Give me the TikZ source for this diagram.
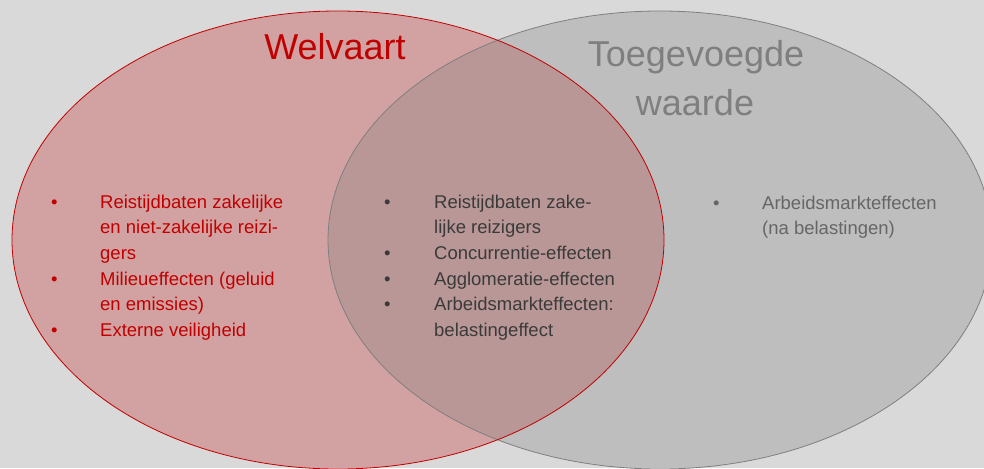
\documentclass[tikz,border=0pt]{standalone}
\usepackage{fontspec}
\setmainfont{Liberation Sans}
\usepackage{array}
\definecolor{bg}{HTML}{D9D9D9}
\definecolor{wred}{HTML}{C00000}
\definecolor{wgray}{HTML}{7F7F7F}
\definecolor{midtext}{HTML}{3A3A3A}
\definecolor{righttext}{HTML}{666666}
\begin{document}
\begin{tikzpicture}[x=1pt,y=-1pt,
  titletext/.style={inner sep=0pt, anchor=base, font=\fontsize{36}{49}\selectfont, align=center},
  listtext/.style={inner sep=0pt, anchor=base west, font=\fontsize{18.5}{25.7}\selectfont}
]
\useasboundingbox (0,0) rectangle (984,468);
\fill[bg] (0,0) rectangle (984,468);
% fills
\fill[wred, fill opacity=0.25] (338,240) ellipse [x radius=326, y radius=229];
\fill[wgray, fill opacity=0.29] (660,240) ellipse [x radius=332, y radius=229];
% outlines
\draw[wgray, line width=0.8pt] (660,240) ellipse [x radius=332, y radius=229];
\draw[wred, line width=0.8pt] (338,240) ellipse [x radius=326, y radius=229];
% titles
\node[titletext, text=wred] (welvaart) at (335,60) {Welvaart};
\node[titletext, text=wgray] (toeg) at (696,67) {Toegevoegde};
\node[titletext, text=wgray] (waarde) at (695,116) {waarde};
% lists
\node[listtext, text=wred] (left) at (51,208) {%
\begin{tabular}[t]{@{}p{49pt}@{}l@{}}
• & Reistijdbaten zakelijke\\
  & en niet-zakelijke reizi-\\
  & gers\\
• & Milieueffecten (geluid\\
  & en emissies)\\
• & Externe veiligheid
\end{tabular}};
\node[listtext, text=midtext] (mid) at (384,208) {%
\begin{tabular}[t]{@{}p{50pt}@{}l@{}}
• & Reistijdbaten zake-\\
  & lijke reizigers\\
• & Concurrentie-effecten\\
• & Agglomeratie-effecten\\
• & Arbeidsmarkteffecten:\\
  & belastingeffect
\end{tabular}};
\node[listtext, text=righttext] (right) at (713,209) {%
\begin{tabular}[t]{@{}p{49pt}@{}l@{}}
• & Arbeidsmarkteffecten\\
  & (na belastingen)
\end{tabular}};
\end{tikzpicture}
\end{document}
